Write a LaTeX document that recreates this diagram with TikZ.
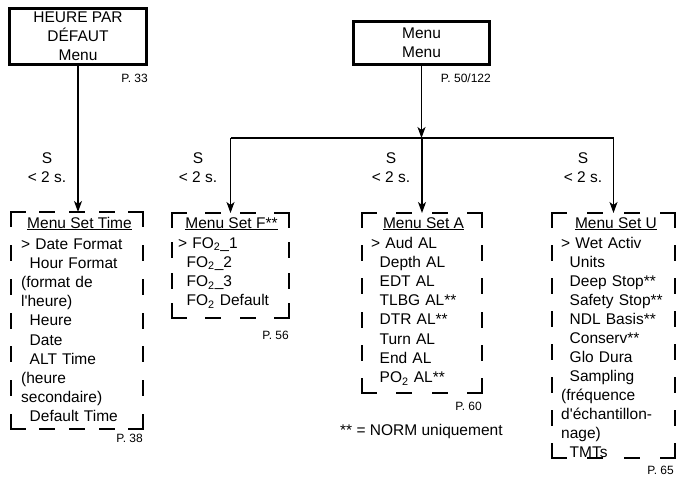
\documentclass[tikz,border=0pt]{standalone}
\usepackage{fontspec}
\setmainfont{Liberation Sans}
\usepackage{tikz}
\usetikzlibrary{arrows.meta}
\newcommand{\sk}{\hspace*{8.5pt}}
\newcommand{\qs}{\textquotesingle}
% one side of a dashed menu box, dashes fitted so that it starts and ends with a dash
\newcommand{\dashedge}[3]{%
  \pgfmathsetmacro{\nd}{max(2,round((#3+16)/32))}%
  \pgfmathsetmacro{\gp}{(#3-\nd*13.6)/(\nd-1)}%
  \draw[dashside,dash pattern=on 13.6pt off \gp pt] (#1) -- (#2);}

\begin{document}
\begin{tikzpicture}[x=1pt,y=-1pt,font=\fontsize{15.5}{19.2}\selectfont,
  headbox/.style={draw,line width=2.6pt,align=center,inner sep=0pt},
  menubox/.style={inner sep=0pt,outer sep=0pt},
  dashside/.style={line width=2.4pt,line cap=rect},
  conn/.style={-{Stealth[length=11pt,width=8pt,inset=3pt]},line width=1.1pt},
  cond/.style={align=center,inner sep=0pt},
  pgref/.style={font=\fontsize{12}{14}\selectfont,inner sep=0pt,anchor=east},
  menutitle/.style={anchor=base,inner sep=0pt},
  menulist/.style={anchor=base west,align=left,text width=#1,inner sep=0pt}]
  \useasboundingbox (0,0) rectangle (678,477);
  % top boxes
  \node[headbox,minimum width=137pt,minimum height=56pt] (heure) at (78,36.5) {HEURE PAR\\DÉFAUT\\Menu};
  \node[headbox,minimum width=136pt,minimum height=43.5pt] (menu) at (421.5,43) {Menu\\Menu};
  \node[pgref] (p33) at (148,78) {P. 33};
  \node[pgref] (p50) at (491,78) {P. 50/122};
  % dashed menus
  \node[menubox,minimum width=132pt,minimum height=217pt] (boxtime) at (77,320.5) {};
  \node[menubox,minimum width=117pt,minimum height=105pt] (boxf) at (230.5,265.5) {};
  \node[menubox,minimum width=120pt,minimum height=180pt] (boxa) at (422,303) {};
  \node[menubox,minimum width=123pt,minimum height=245pt] (boxu) at (613.5,335.5) {};
  \foreach \b/\w/\h in {boxtime/132/217,boxf/117/105,boxa/120/180,boxu/123/245} {
    \dashedge{\b.north west}{\b.north east}{\w}
    \dashedge{\b.south west}{\b.south east}{\w}
    \dashedge{\b.north west}{\b.south west}{\h}
    \dashedge{\b.north east}{\b.south east}{\h}
  }
  \node[menutitle] (ttime) at (79.5,228) {\underline{Menu Set Time}};
  \node[menutitle] (tf) at (231.5,228) {\underline{Menu Set F**}};
  \node[menutitle] (ta) at (423.5,228) {\underline{Menu Set A}};
  \node[menutitle] (tu) at (616,228) {\underline{Menu Set U}};
  \node[menulist=125pt] (ltime) at (21,249) {> Date Format\\\sk Hour Format\\(format de\\l\qs heure)\\\sk Heure\\\sk Date\\\sk ALT Time\\(heure\\secondaire)\\\sk Default Time};
  \node[menulist=110pt] (lf) at (178,248) {> FO\textsubscript{2}\_1\\\sk FO\textsubscript{2}\_2\\\sk FO\textsubscript{2}\_3\\\sk FO\textsubscript{2} Default};
  \node[menulist=110pt] (la) at (371,248) {> Aud AL\\\sk Depth AL\\\sk EDT AL\\\sk TLBG AL**\\\sk DTR AL**\\\sk Turn AL\\\sk End AL\\\sk PO\textsubscript{2} AL**};
  \node[menulist=115pt,font=\fontsize{15.5}{19}\selectfont] (lu) at (561,248) {> Wet Activ\\\sk Units\\\sk Deep Stop**\\\sk Safety Stop**\\\sk NDL Basis**\\\sk Conserv**\\\sk Glo Dura\\\sk Sampling\\(fréquence\\d\qs échantillon-\\nage)\\\sk TMTs};
  \node[pgref] (p38) at (143,438) {P. 38};
  \node[pgref] (p56) at (289,335) {P. 56};
  \node[pgref] (p60) at (482,406) {P. 60};
  \node[pgref] (p65) at (674,470) {P. 65};
  \node[anchor=base west,inner sep=0pt] (norm) at (340,435) {** = NORM uniquement};
  % connectors
  \draw[conn] (heure.south) -- (heure.south |- boxtime.north);
  \coordinate (split) at (421.5,138);
  \draw[conn] (menu.south) -- (split);
  \draw[line width=1.1pt] (split -| boxf.north) -- (split -| boxu.north);
  \foreach \b in {boxf,boxa,boxu}
    \draw[conn] (split -| \b.north) -- (\b.north);
  \node[cond] (s1) at (47,167.5) {S\\< 2 s.};
  \node[cond] (s2) at (198,167.5) {S\\< 2 s.};
  \node[cond] (s3) at (391,167.5) {S\\< 2 s.};
  \node[cond] (s4) at (583,167.5) {S\\< 2 s.};
\end{tikzpicture}
\end{document}
